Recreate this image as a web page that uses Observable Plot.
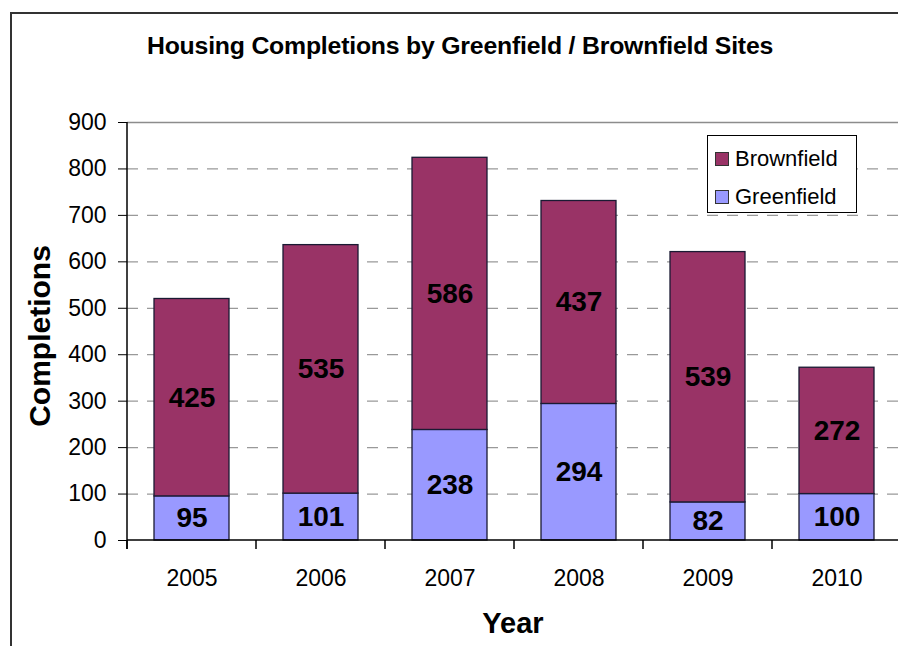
<!DOCTYPE html>
<html>
<head>
<meta charset="utf-8">
<script src="https://cdn.jsdelivr.net/npm/d3@7"></script>
<script src="https://cdn.jsdelivr.net/npm/@observablehq/plot@0.6"></script>
<style>
  html, body { margin: 0; padding: 0; background: #fff; overflow: hidden; }
  #wrap { position: relative; width: 898px; height: 646px; overflow: hidden; font-family: "Liberation Sans", Arial, sans-serif; color: #000; }
  #wrap svg { position: absolute; left: 0; top: 0; }
  #frame { position: absolute; left: 10px; top: 12px; width: 1000px; height: 1000px; border-left: 2px solid #333; border-top: 2px solid #333; box-sizing: border-box; pointer-events: none; }
  #title { position: absolute; left: 60px; width: 800px; top: 33px; text-align: center; font-weight: bold; font-size: 24.8px; line-height: 26px; letter-spacing: -0.2px; }
  #ylab { position: absolute; left: 40px; top: 336px; transform: translate(-50%, -50%) rotate(-90deg); font-weight: bold; font-size: 30px; white-space: nowrap; }
  #xlab { position: absolute; left: 513px; top: 623px; transform: translate(-50%, -50%); font-weight: bold; font-size: 29px; white-space: nowrap; }
  #legend { position: absolute; left: 707px; top: 135px; width: 150px; height: 78px; border: 1.5px solid #000; box-sizing: border-box; background: #fff; font-size: 22px; }
  .row { position: absolute; left: 7px; display: flex; align-items: center; }
  .sw { width: 12px; height: 12px; border: 1px solid #333; margin-right: 6px; }
</style>
</head>
<body>
<div id="wrap"></div>
<script>
const years = ["2005", "2006", "2007", "2008", "2009", "2010"];
const greenfield = [95, 101, 238, 294, 82, 100];
const brownfield = [425, 535, 586, 437, 539, 272];
const seriesNames = ["Brownfield", "Greenfield"];
const seriesColors = ["#993366", "#9999FF"];
const yTicks = [0, 100, 200, 300, 400, 500, 600, 700, 800, 900];
const gridVals = [100, 200, 300, 400, 500, 600, 700, 800];
const titleText = "Housing Completions by Greenfield / Brownfield Sites";

const data = [
  ...years.map((y, i) => ({year: y, type: "Greenfield", value: greenfield[i]})),
  ...years.map((y, i) => ({year: y, type: "Brownfield", value: brownfield[i]}))
];

const W = 898, H = 646;

function axisLines(index, scales, values, dims) {
  const g = d3.create("svg:g");
  const left = dims.marginLeft, right = dims.width - dims.marginRight;
  const bottom = dims.height - dims.marginBottom;
  const top = dims.marginTop;
  const x = scales.x;
  let bounds;
  if (x && typeof x.step === "function") {
    const off = (x.step() - x.bandwidth()) / 2;
    bounds = years.map(d => x(d) - off);
    bounds.push(bounds[bounds.length - 1] + x.step());
  } else {
    const step = (right - left) / years.length;
    bounds = d3.range(years.length + 1).map(i => left + i * step);
  }
  g.append("line").attr("x1", left).attr("x2", right).attr("y1", bottom).attr("y2", bottom)
    .attr("stroke", "#000").attr("stroke-width", 1.5);
  g.append("line").attr("x1", left).attr("x2", left).attr("y1", top).attr("y2", bottom + 9)
    .attr("stroke", "#000").attr("stroke-width", 1.5);
  for (const b of bounds) {
    g.append("line").attr("x1", b).attr("x2", b).attr("y1", bottom).attr("y2", bottom + 9)
      .attr("stroke", "#000").attr("stroke-width", 1.5);
  }
  return g.node();
}

const chart = Plot.plot({
  width: W,
  height: H,
  marginLeft: 127,
  marginRight: -3,
  marginTop: 122,
  marginBottom: 106,
  style: {fontFamily: "'Liberation Sans', Arial, sans-serif", fontSize: "23px", color: "#000", background: "transparent", overflow: "hidden"},
  x: {domain: years, paddingInner: 0.42, paddingOuter: 0.21, tickSize: 0, tickPadding: 29, label: null},
  y: {domain: [0, 900], ticks: yTicks, tickSize: 9, tickPadding: 12, label: null},
  color: {domain: seriesNames, range: seriesColors},
  marks: [
    Plot.ruleY(gridVals, {stroke: "#999999", strokeDasharray: "11,9", strokeWidth: 1.2}),
    Plot.ruleY([900], {stroke: "#8c8c8c", strokeWidth: 1.5}),
    Plot.barY(data, Plot.stackY({x: "year", y: "value", z: "type", fill: "type", stroke: "#1a1a33", strokeWidth: 1.3})),
    Plot.text(data, Plot.stackY({x: "year", y: "value", z: "type", text: "value", fill: "#000", fontSize: 28, fontWeight: "bold"})),
    axisLines
  ]
});

const wrap = document.getElementById("wrap");
wrap.appendChild(chart);

function addDiv(id, text) {
  const d = document.createElement("div");
  d.id = id;
  d.textContent = text;
  wrap.appendChild(d);
  return d;
}
addDiv("title", titleText);
addDiv("ylab", "Completions");
addDiv("xlab", "Year");

const legend = document.createElement("div");
legend.id = "legend";
seriesNames.forEach((name, i) => {
  const row = document.createElement("div");
  row.className = "row";
  row.style.top = (i === 0 ? 10 : 48) + "px";
  const sw = document.createElement("div");
  sw.className = "sw";
  sw.style.background = seriesColors[i];
  const t = document.createElement("span");
  t.textContent = name;
  row.appendChild(sw);
  row.appendChild(t);
  legend.appendChild(row);
});
wrap.appendChild(legend);

const frame = document.createElement("div");
frame.id = "frame";
wrap.appendChild(frame);
</script>
</body>
</html>
